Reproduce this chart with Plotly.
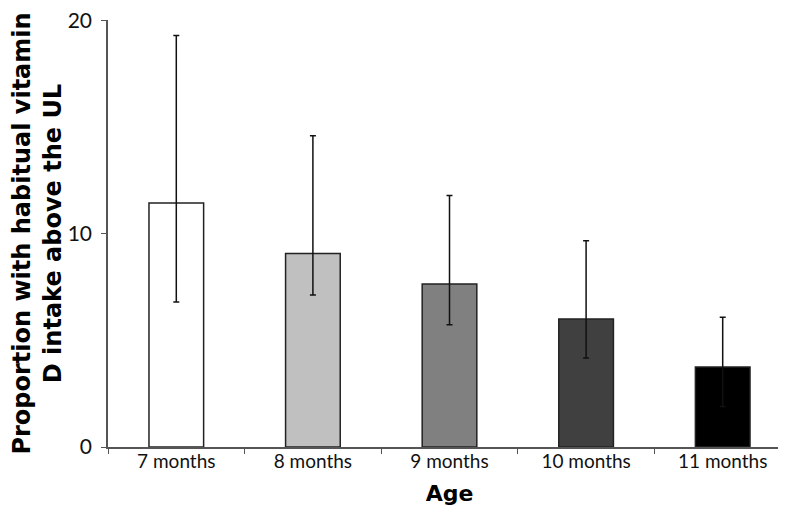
import plotly.graph_objects as go

categories = ["7 months", "8 months", "9 months", "10 months", "11 months"]
values = [11.45, 9.08, 7.65, 6.0, 3.75]
err_upper = [19.3, 14.6, 11.8, 9.68, 6.09]
err_lower = [6.8, 7.13, 5.73, 4.17, 1.9]
bar_colors = ["#ffffff", "#c0c0c0", "#808080", "#404040", "#000000"]
y_ticks = [0, 10, 20]

plus = [u - v for u, v in zip(err_upper, values)]
minus = [v - l for v, l in zip(values, err_lower)]

fig = go.Figure()
fig.add_trace(go.Bar(
    x=categories, y=values,
    marker=dict(color=bar_colors, line=dict(color="#222222", width=1.5)),
    error_y=dict(type="data", symmetric=False, array=plus, arrayminus=minus,
                 color="#111111", thickness=1.5, width=3),
    width=0.4,
))

fig.update_layout(
    width=786, height=509,
    margin=dict(l=100, r=3, t=12, b=70),
    paper_bgcolor="white", plot_bgcolor="white",
    showlegend=False,
    font=dict(family="Lato, Open Sans, sans-serif", color="#111111"),
    xaxis=dict(
        showline=True, linecolor="#555555", linewidth=1.5,
        ticks="outside", ticklen=5, tickcolor="#555555", tickson="boundaries",
        tickfont=dict(size=19, family="Lato, sans-serif", color="#111111"),
        ticklabelstandoff=-4,
        title=dict(text="Age", font=dict(size=22, family="DejaVu Sans", weight="bold", color="#000000"), standoff=15),
        automargin=False,
    ),
    yaxis=dict(
        range=[0, 20.03], tickvals=y_ticks,
        showline=True, linecolor="#555555", linewidth=1.5,
        ticks="outside", ticklen=5, tickcolor="#555555",
        showgrid=False, zeroline=False,
        tickfont=dict(size=21, family="Lato, sans-serif", color="#111111"),
        ticklabelstandoff=5, ticklabeloverflow="allow",
        title=dict(text="Proportion with habitual vitamin<br>D intake above the UL",
                   font=dict(size=24, family="DejaVu Sans", weight="bold", color="#000000"), standoff=2),
        automargin=False,
    ),
)

fig.write_html("out.html")
